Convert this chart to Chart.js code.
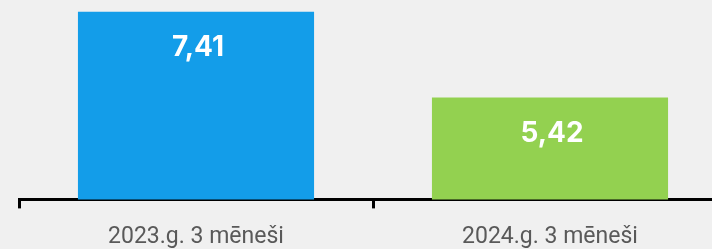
<!DOCTYPE html>
<html>
<head>
<meta charset="utf-8">
<script src="https://cdn.jsdelivr.net/npm/chart.js@4"></script>
<style>
  html, body { margin: 0; padding: 0; background: #f0f0f0; overflow: hidden; }
  #wrap { width: 730px; height: 266px; }
</style>
</head>
<body>
<div id="wrap"><canvas id="chart"></canvas></div>
<script>
const periods = ['2023.g. 3 mēneši', '2024.g. 3 mēneši'];
const values = [7.41, 5.42];
const barColors = ['#139de9', '#93d150'];

// writes the value in white near the top of each bar
const valueLabels = {
    id: 'valueLabels',
    afterDatasetsDraw(chart) {
        const ctx = chart.ctx;
        const meta = chart.getDatasetMeta(0);
        ctx.save();
        ctx.fillStyle = '#ffffff';
        ctx.font = 'bold 28px Inter';
        ctx.textAlign = 'center';
        ctx.textBaseline = 'middle';
        meta.data.forEach((bar, i) => {
            ctx.fillText(values[i].toFixed(2).replace('.', ','), bar.x + 2, bar.y + 36);
        });
        ctx.restore();
    }
};

new Chart(document.getElementById('chart'), {
    type: 'bar',
    data: {
        labels: periods,
        datasets: [{
            data: values,
            backgroundColor: barColors,
            categoryPercentage: 1,
            barPercentage: 0.667
        }]
    },
    options: {
        responsive: true,
        maintainAspectRatio: false,
        animation: false,
        layout: { padding: { left: 19, right: 3, top: 8, bottom: 0 } },
        plugins: {
            legend: { display: false },
            tooltip: { enabled: false }
        },
        scales: {
            y: { display: false, min: 3.05, max: 7.5 },
            x: {
                border: { display: true, color: '#000000', width: 3 },
                grid: {
                    offset: true,
                    drawOnChartArea: false,
                    drawTicks: true,
                    tickLength: 9,
                    tickWidth: 3,
                    tickColor: '#000000'
                },
                ticks: {
                    color: '#595959',
                    padding: 15,
                    font: { family: 'Roboto', size: 23 }
                }
            }
        }
    },
    plugins: [valueLabels]
});
</script>
</body>
</html>
